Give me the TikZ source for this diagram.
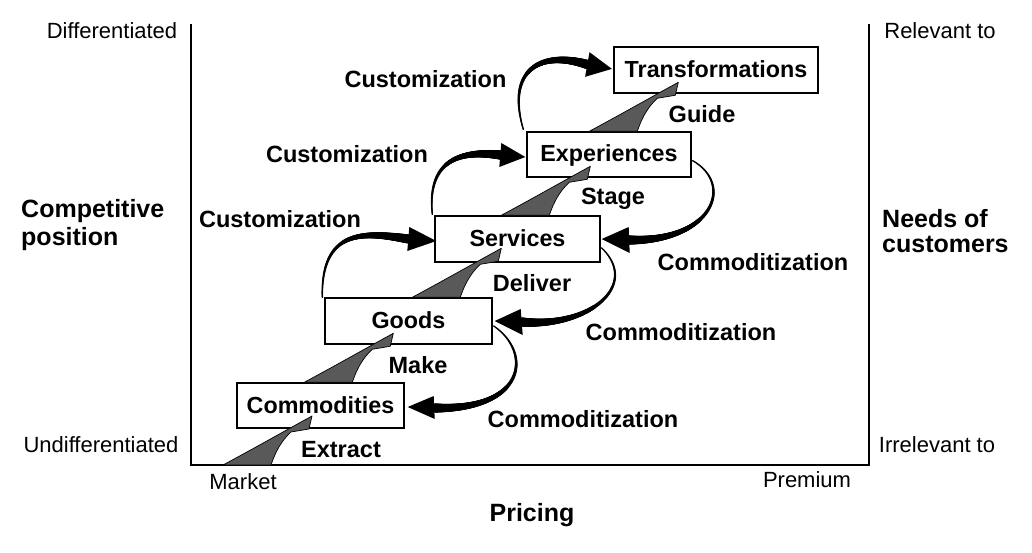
\documentclass[tikz,border=0pt]{standalone}
\usepackage{fontspec}
\setmainfont{Liberation Sans}
\usetikzlibrary{calc,decorations.markings}
\tikzset{
  taper/.style={postaction={decorate},
    decoration={markings,
      mark=between positions 0 and 1 step 0.5pt with {%
        \pgfmathsetmacro\tpa{\pgfkeysvalueof{/pgf/decoration/mark info/distance from start}/\pgfdecoratedpathlength}%
        \pgfmathsetmacro\tpr{0.75+3.9*(0.35*\tpa+0.65*\tpa*\tpa)}%
        \fill (0,0) circle[radius=\tpr pt];}}},
  wedgefill/.style={fill=black!65, draw=black, line width=0.7pt, line join=round},
  pics/wedge/.style={code={%
    \filldraw[wedgefill] (0,0) .. controls (28,-15) and (58,-32) .. (89,-49)
      -- (86,-36) -- (68,-33) .. controls (58,-24) and (52,-12) .. (48,0) -- cycle;}},
}
\begin{document}
\begin{tikzpicture}[x=1pt,y=-1pt,
  axisline/.style={line width=2.2pt, line cap=butt, line join=miter},
  ebox/.style={draw, line width=1.4pt, fill=white, inner sep=0pt, text height=15pt, text depth=0pt,
    font=\bfseries\fontsize{23.3}{28}\selectfont},
  endlab/.style={anchor=base, inner sep=0pt, font=\fontsize{22}{26}\selectfont},
  flowlab/.style={anchor=base, inner sep=0pt, font=\bfseries\fontsize{23.5}{28}\selectfont},
  axislab/.style={anchor=base west, inner sep=0pt, font=\bfseries\fontsize{25}{30}\selectfont},
  tiphead/.style={fill=black},
]
\useasboundingbox (0,0) rectangle (1032,553);
\fill[white] (0,0) rectangle (1032,553);

% frame
\coordinate (tl) at (191,24);
\coordinate (bl) at (191,465);
\coordinate (br) at (869,465);
\coordinate (tr) at (869,24);
\draw[axisline] (tl) -- (bl) -- (br) -- (tr);

% boxes
\node[ebox, minimum width=204pt, minimum height=46pt] (trans) at (716,70) {Transformations};
\node[ebox, minimum width=164pt, minimum height=45pt] (exper) at (609,154.5) {Experiences};
\node[ebox, minimum width=165pt, minimum height=46pt] (serv) at (517.5,239) {Services};
\node[ebox, minimum width=167pt, minimum height=46pt] (goods) at (408.5,321) {Goods};
\node[ebox, minimum width=167pt, minimum height=45pt] (comm) at (320.5,405.5) {Commodities};

% axis labels
\node[endlab] (diff) at (112,39) {Differentiated};
\node[endlab] (undiff) at (101,452) {Undifferentiated};
\node[endlab] (rel) at (940,39) {Relevant to};
\node[endlab] (irrel) at (937,452) {Irrelevant to};
\node[endlab] (market) at (243,489) {Market};
\node[endlab] (premium) at (807,487) {Premium};
\node[axislab, anchor=base] (pricing) at (532,521) {Pricing};
\node[axislab] (comp1) at (21,218) {Competitive};
\node[axislab] (comp2) at (21,245) {position};
\node[axislab] (needs1) at (882,227) {Needs of};
\node[axislab] (needs2) at (882,252) {customers};

% flow labels
\node[flowlab] (cust3) at (425.5,88) {Customization};
\node[flowlab] (cust2) at (347,163) {Customization};
\node[flowlab] (cust1) at (280,227) {Customization};
\node[flowlab] (guide) at (702,123) {Guide};
\node[flowlab] (stage) at (613,205) {Stage};
\node[flowlab] (deliver) at (532,291) {Deliver};
\node[flowlab] (make) at (418,373) {Make};
\node[flowlab] (extract) at (341,457) {Extract};
\node[flowlab] (com3) at (753,270) {Commoditization};
\node[flowlab] (com2) at (681,340) {Commoditization};
\node[flowlab] (com1) at (583,427) {Commoditization};

% grey step arrows
\pic at ($(bl)+(32,0)$) {wedge};
\pic at ($(comm.north west)+(68,0)$) {wedge};
\pic at ($(goods.north west)+(88,0)$) {wedge};
\pic at ($(serv.north west)+(67,0)$) {wedge};
\pic at ($(exper.north west)+(63,0)$) {wedge};

% customization arrows
\path[taper] ($(goods.north west)+(-2,0)$) .. controls (321,228) and (365,232) .. ($(serv.west)+(-26,0)$);
\fill[tiphead] ($(serv.west)+(2,2)$) -- ($(serv.west)+(-25,-12)$) -- ($(serv.west)+(-27,12)$) -- cycle;

\path[taper] ($(serv.north west)+(-2,-1)$) .. controls (427,160) and (460,150) .. ($(exper.west)+(-26,0.5)$);
\fill[tiphead] ($(exper.west)+(-1,2.5)$) -- ($(exper.west)+(-25,-11.5)$) -- ($(exper.west)+(-27,12.5)$) -- cycle;

\path[taper] ($(exper.north west)+(-3,-2)$) .. controls (506,70) and (540,50) .. ($(trans.west)+(-26,-5.5)$);
\fill[tiphead] ($(trans.west)+(-1.4,-1.1)$) -- ($(trans.west)+(-23.8,-17.8)$) -- ($(trans.west)+(-28.2,6.8)$) -- cycle;

% commoditization arrows
\path[taper] ($(exper.south east)+(1,-17)$) .. controls (735,185) and (712,242) .. ($(serv.east)+(28,1)$);
\fill[tiphead] ($(serv.east)+(1,0)$) -- ($(serv.east)+(28,-12)$) -- ($(serv.east)+(29,14)$) -- cycle;

\path[taper] ($(serv.east)+(1,9)$) .. controls (640,285) and (590,328) .. ($(goods.east)+(29,1)$);
\fill[tiphead] ($(goods.east)+(2,0)$) -- ($(goods.east)+(28,-12)$) -- ($(goods.east)+(30,14)$) -- cycle;

\path[taper] ($(goods.east)+(1,5)$) .. controls (532,352) and (527,410) .. ($(comm.east)+(30,2.5)$);
\fill[tiphead] ($(comm.east)+(3,1.5)$) -- ($(comm.east)+(29,-9.5)$) -- ($(comm.east)+(30,13.5)$) -- cycle;
\end{tikzpicture}
\end{document}
